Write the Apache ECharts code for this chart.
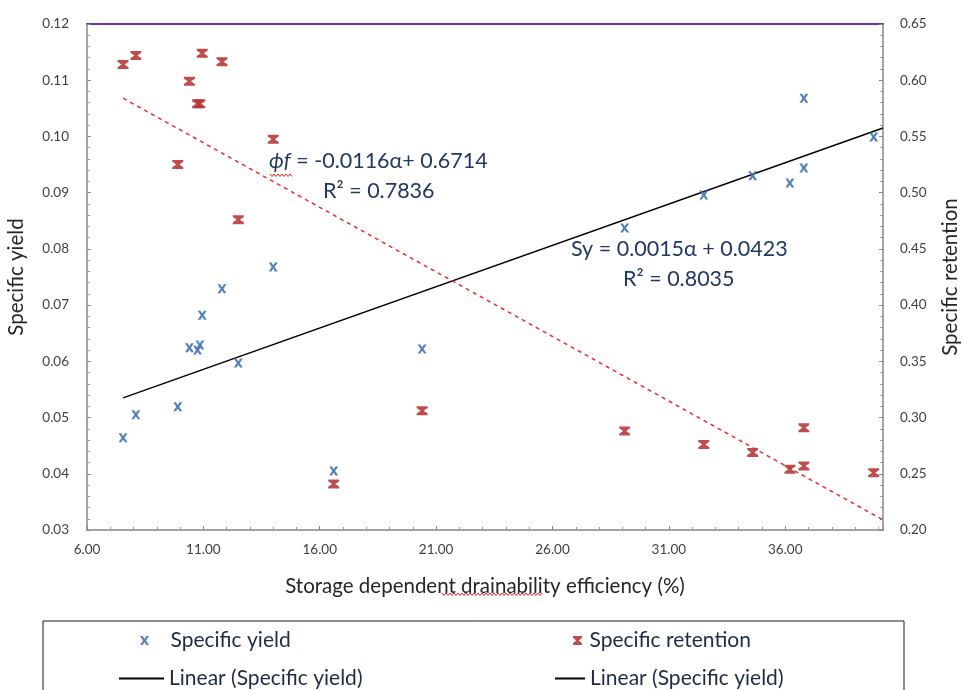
<!DOCTYPE html>
<html>
<head>
<meta charset="utf-8">
<script src="https://cdn.jsdelivr.net/npm/echarts@6/dist/echarts.min.js"></script>
<style>
  html, body { margin: 0; padding: 0; background: #fff; }
  #chart { width: 962px; height: 690px; }
</style>
</head>
<body>
<div id="chart"></div>
<script>
// storage dependent drainability efficiency (%)
const alpha = [7.55, 8.1, 9.9, 10.4, 10.75, 10.85, 10.95, 11.8, 12.5, 14.0, 16.6, 20.4, 29.1, 32.5, 34.6, 36.2, 36.8, 36.8, 39.8];
const specificYield = [0.0464, 0.0505, 0.0519, 0.0624, 0.0620, 0.0629, 0.0682, 0.0729, 0.0597, 0.0768, 0.0405, 0.0622, 0.0837, 0.0896, 0.0930, 0.0917, 0.1068, 0.0944, 0.0999];
const specificRetention = [0.614, 0.622, 0.525, 0.599, 0.579, 0.579, 0.624, 0.6165, 0.476, 0.5475, 0.241, 0.306, 0.288, 0.276, 0.269, 0.254, 0.257, 0.291, 0.251];

// trend line ends
const trendX = [7.55, 40.2];
const syTrend = [0.0535, 0.1015];
const srTrend = [0.584, 0.209];

const FONT = "Lato";
const BLUE = "#3f72b5";
const RED = "#b83a3a";
const NAVY = "#1f3864";

const xSymbol = "path://M0,0 L3,0 L5,3.2 L7,0 L10,0 L6.6,5 L10,10 L7,10 L5,6.8 L3,10 L0,10 L3.4,5 Z";
const hourglass = "path://M0,0 H10 V2 L6.4,5 L10,8 V10 H0 V8 L3.6,5 L0,2 Z";

const pairs = (xs, ys) => xs.map((x, i) => [x, ys[i]]);

// red wavy spell-check underline
const squiggle = (x0, x1, y) => {
  const pts = [];
  for (let x = x0, k = 0; x <= x1; x += 2, k++) pts.push([x, k % 2 ? y + 1.5 : y - 1]);
  return pts;
};

const chart = echarts.init(document.getElementById("chart"));

const tickLabel = { color: "#404040", fontFamily: FONT, fontSize: 13.5 };
const axisGray = { color: "#878787", width: 1.5 };
const titleText = { fontFamily: FONT, fontSize: 20.5, color: "#262626" };
const legendText = { fontFamily: FONT, fontSize: 21, color: "#1f2a44" };
const eqText = { fontFamily: FONT, fontSize: 21.5, fill: NAVY };

function legendItem(name, left, top, width, extra) {
  return Object.assign({
    left: left,
    top: top,
    itemWidth: width,
    itemHeight: 9,
    itemGap: 4,
    textStyle: legendText,
    selectedMode: false,
    data: [{ name: name }]
  }, extra || {});
}

chart.setOption({
  animation: false,
  textStyle: { fontFamily: FONT },
  grid: { left: 87, right: 79, top: 24, bottom: 160, outerBoundsMode: "none" },
  xAxis: [
    {
      type: "value",
      min: 6,
      max: 40.2,
      interval: 5,
      name: "Storage dependent drainability efficiency (%)",
      nameLocation: "middle",
      nameGap: 46,
      nameTextStyle: titleText,
      axisLine: { show: true, lineStyle: axisGray },
      axisTick: { show: true, inside: true, length: 4, lineStyle: { color: "#878787" } },
      minorTick: { show: true, splitNumber: 5, length: 3, lineStyle: { color: "#9a9a9a" } },
      splitLine: { show: false },
      axisLabel: Object.assign({ margin: 13, showMaxLabel: false, formatter: v => v.toFixed(2) }, tickLabel)
    },
    {
      type: "value",
      position: "top",
      min: 6,
      max: 40.2,
      axisLine: { show: true, lineStyle: { color: "#7030a0", width: 2 } },
      axisTick: { show: false },
      axisLabel: { show: false },
      splitLine: { show: false }
    }
  ],
  yAxis: [
    {
      type: "value",
      min: 0.03,
      max: 0.12,
      interval: 0.01,
      name: "Specific yield",
      nameLocation: "middle",
      nameRotate: 90,
      nameGap: 60,
      nameTextStyle: titleText,
      axisLine: { show: true, lineStyle: axisGray },
      axisTick: { show: true, inside: true, length: 4, lineStyle: { color: "#878787" } },
      minorTick: { show: true, splitNumber: 5, length: 3, lineStyle: { color: "#9a9a9a" } },
      splitLine: { show: false },
      axisLabel: Object.assign({ margin: 18, formatter: v => v.toFixed(2) }, tickLabel)
    },
    {
      type: "value",
      position: "right",
      min: 0.2,
      max: 0.65,
      interval: 0.05,
      name: "Specific retention",
      nameLocation: "middle",
      nameRotate: 90,
      nameGap: 57,
      nameTextStyle: titleText,
      axisLine: { show: true, lineStyle: axisGray },
      axisTick: { show: true, inside: true, length: 4, lineStyle: { color: "#878787" } },
      minorTick: { show: true, splitNumber: 5, length: 3, lineStyle: { color: "#9a9a9a" } },
      splitLine: { show: false },
      axisLabel: Object.assign({ margin: 17, formatter: v => v.toFixed(2) }, tickLabel)
    }
  ],
  legend: [
    legendItem("Specific yield", 135, 625, 42),
    legendItem("Linear (Specific yield)", 114, 663, 45, {
      icon: "rect", itemHeight: 2, itemStyle: { color: "#000" }
    }),
    legendItem("Specific retention", 568, 625, 14),
    legendItem("Linear (Specific yield) ", 550, 663, 30, {
      icon: "rect", itemHeight: 2, itemStyle: { color: "#000" }
    })
  ],
  series: [
    {
      name: "Specific yield",
      type: "scatter",
      yAxisIndex: 0,
      symbol: xSymbol,
      symbolSize: [9, 9],
      itemStyle: { color: BLUE, opacity: 0.9 },
      data: pairs(alpha, specificYield),
      z: 3
    },
    {
      name: "Specific retention",
      type: "scatter",
      yAxisIndex: 1,
      symbol: hourglass,
      symbolSize: [11, 9],
      itemStyle: { color: RED, opacity: 0.9 },
      data: pairs(alpha, specificRetention),
      z: 3
    },
    {
      name: "Linear (Specific yield)",
      type: "line",
      yAxisIndex: 0,
      symbol: "none",
      lineStyle: { color: "#000", width: 1.5 },
      data: pairs(trendX, syTrend),
      z: 2
    },
    {
      name: "Linear (Specific yield) ",
      type: "line",
      yAxisIndex: 1,
      symbol: "none",
      lineStyle: { color: "#e8302a", width: 1.5, type: [4, 4] },
      data: pairs(trendX, srTrend),
      z: 2
    }
  ],
  graphic: [
    {
      type: "rect",
      shape: { x: 43, y: 621, width: 861, height: 90 },
      style: { fill: "none", stroke: "#1a1a1a", lineWidth: 1 },
      silent: true
    },
    {
      type: "text",
      left: 269,
      top: 150,
      style: {
        rich: {
          it: Object.assign({ fontStyle: "italic" }, eqText),
          n: eqText
        },
        text: "{it|ϕf}{n| = -0.0116α+ 0.6714}"
      },
      z: 10
    },
    {
      type: "polyline",
      shape: { points: squiggle(270, 292, 175) },
      style: { stroke: "#e02020", lineWidth: 1, fill: null },
      silent: true,
      z: 10
    },
    {
      type: "text",
      left: 323,
      top: 180,
      style: Object.assign({ text: "R² = 0.7836" }, eqText),
      z: 10
    },
    {
      type: "text",
      left: 571,
      top: 238,
      style: Object.assign({ text: "Sy = 0.0015α + 0.0423" }, eqText),
      z: 10
    },
    {
      type: "text",
      left: 623,
      top: 268,
      style: Object.assign({ text: "R² = 0.8035" }, eqText),
      z: 10
    },
    {
      type: "polyline",
      shape: { points: squiggle(442, 543, 594) },
      style: { stroke: "#e02020", lineWidth: 1, fill: null },
      silent: true,
      z: 10
    }
  ]
});
</script>
</body>
</html>
